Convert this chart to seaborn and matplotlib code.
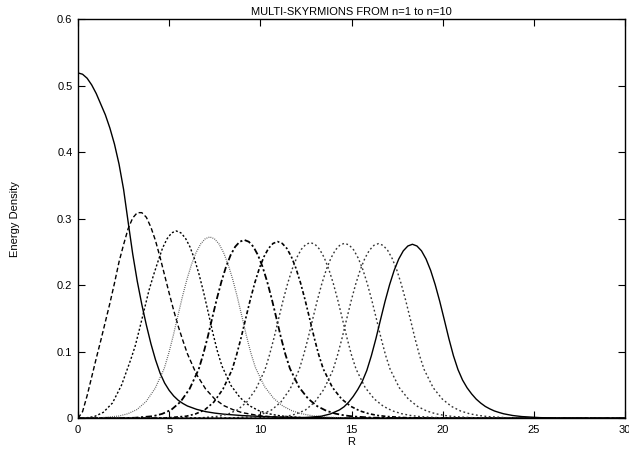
import matplotlib
matplotlib.use("Agg")
import matplotlib.pyplot as plt
import seaborn as sns
import pandas as pd

# ---------------- data ----------------
r_n1 = [0, 0.25, 0.5, 0.75, 1.0, 1.25, 1.5, 1.75, 2.0, 2.25, 2.5, 2.75, 3.0, 3.25, 3.5,
        3.75, 4.0, 4.25, 4.5, 4.75, 5.0, 5.25, 5.5, 5.75, 6.0, 6.5, 7.0, 7.5, 8.0, 9.0,
        10, 11, 12, 14, 16, 20, 30]
e_n1 = [0.519, 0.517, 0.511, 0.501, 0.488, 0.472, 0.456, 0.436, 0.412, 0.382, 0.344,
        0.295, 0.247, 0.206, 0.171, 0.140, 0.112, 0.088, 0.068, 0.053, 0.042, 0.0335,
        0.027, 0.0223, 0.0185, 0.0135, 0.010, 0.0078, 0.0062, 0.0041, 0.0028, 0.0019,
        0.0013, 0.0006, 0.0003, 0.0001, 0.0]

r_n2 = [0, 0.25, 0.5, 0.75, 1.0, 1.25, 1.5, 1.75, 2.0, 2.25, 2.5, 2.75, 3.0, 3.25, 3.5,
        3.75, 4.0, 4.25, 4.5, 4.75, 5.0, 5.25, 5.5, 5.75, 6.0, 6.5, 7.0, 7.5, 8.0, 8.5,
        9.0, 10, 11, 12, 14, 30]
e_n2 = [0.0, 0.010, 0.034, 0.062, 0.090, 0.117, 0.145, 0.173, 0.203, 0.235, 0.261,
        0.285, 0.301, 0.309, 0.309, 0.302, 0.287, 0.267, 0.242, 0.215, 0.188, 0.162,
        0.138, 0.117, 0.097, 0.066, 0.044, 0.029, 0.019, 0.013, 0.0085, 0.0037,
        0.0016, 0.0007, 0.0001, 0.0]

r_n3 = [0, 0.39, 0.89, 1.39, 1.89, 2.39, 2.89, 3.14, 3.39, 3.64, 3.89, 4.14, 4.39, 4.64,
        4.89, 5.14, 5.39, 5.64, 5.89, 6.14, 6.39, 6.64, 6.89, 7.14, 7.39, 7.64, 7.89,
        8.39, 8.89, 9.39, 9.89, 10.39, 10.89, 11.39, 12.39, 13.39, 30]
e_n3 = [0.0, 0.0005, 0.0025, 0.009, 0.023, 0.050, 0.088, 0.109, 0.136, 0.164, 0.192,
        0.215, 0.236, 0.256, 0.270, 0.2787, 0.2815, 0.2787, 0.2708, 0.2576, 0.2393,
        0.2162, 0.1892, 0.1593, 0.1289, 0.1013, 0.0788, 0.0493, 0.0310, 0.0191,
        0.0118, 0.0073, 0.0045, 0.0028, 0.0010, 0.0004, 0.0]

r_n4 = [0, 0.23, 1.23, 2.23, 2.73, 3.23, 3.73, 4.23, 4.73, 4.98, 5.23, 5.48, 5.73, 5.98,
        6.23, 6.48, 6.73, 6.98, 7.23, 7.48, 7.73, 7.98, 8.23, 8.48, 8.73, 8.98, 9.23,
        9.48, 9.73, 10.23, 10.73, 11.23, 11.73, 12.23, 12.73, 13.23, 14.23, 15.23, 30]
e_n4 = [0.0, 0.0002, 0.0008, 0.0033, 0.0068, 0.0131, 0.0251, 0.0450, 0.0749, 0.0981,
        0.1248, 0.1542, 0.1831, 0.2093, 0.2316, 0.2493, 0.2621, 0.2698, 0.2725,
        0.2698, 0.2621, 0.2493, 0.2316, 0.2093, 0.1831, 0.1542, 0.1248, 0.0981,
        0.0763, 0.0477, 0.0300, 0.0185, 0.0114, 0.0071, 0.0044, 0.0027, 0.0010,
        0.0004, 0.0]

r_n5 = [0, 2.12, 3.12, 4.12, 4.62, 5.12, 5.62, 6.12, 6.62, 6.87, 7.12, 7.37, 7.62, 7.87,
        8.12, 8.37, 8.62, 8.87, 9.12, 9.37, 9.62, 9.87, 10.12, 10.37, 10.62, 10.87,
        11.12, 11.37, 11.62, 12.12, 12.62, 13.12, 13.62, 14.12, 14.62, 15.12, 16.12,
        17.12, 30]
e_n5 = [0.0, 0.0002, 0.0008, 0.0032, 0.0067, 0.0129, 0.0247, 0.0442, 0.0737, 0.0965,
        0.1227, 0.1517, 0.1801, 0.2058, 0.2278, 0.2452, 0.2578, 0.2653, 0.2680,
        0.2653, 0.2578, 0.2452, 0.2278, 0.2058, 0.1801, 0.1517, 0.1227, 0.0965,
        0.0750, 0.0469, 0.0295, 0.0182, 0.0113, 0.0070, 0.0043, 0.0027, 0.0010,
        0.0003, 0.0]

r_n6 = [0, 3.95, 4.95, 5.95, 6.45, 6.95, 7.45, 7.95, 8.45, 8.7, 8.95, 9.2, 9.45, 9.7,
        9.95, 10.2, 10.45, 10.7, 10.95, 11.2, 11.45, 11.7, 11.95, 12.2, 12.45, 12.7,
        12.95, 13.2, 13.45, 13.95, 14.45, 14.95, 15.45, 15.95, 16.45, 16.95, 17.95,
        18.95, 30]
e_n6 = [0.0, 0.0002, 0.0008, 0.0032, 0.0066, 0.0127, 0.0244, 0.0438, 0.0730, 0.0956,
        0.1216, 0.1503, 0.1784, 0.2039, 0.2257, 0.2429, 0.2554, 0.2628, 0.2655,
        0.2628, 0.2554, 0.2429, 0.2257, 0.2039, 0.1784, 0.1503, 0.1216, 0.0956,
        0.0743, 0.0465, 0.0292, 0.0181, 0.0112, 0.0069, 0.0042, 0.0027, 0.0010,
        0.0003, 0.0]

r_n7 = [0, 5.75, 6.75, 7.75, 8.25, 8.75, 9.25, 9.75, 10.25, 10.5, 10.75, 11.0, 11.25,
        11.5, 11.75, 12.0, 12.25, 12.5, 12.75, 13.0, 13.25, 13.5, 13.75, 14.0, 14.25,
        14.5, 14.75, 15.0, 15.25, 15.75, 16.25, 16.75, 17.25, 17.75, 18.25, 18.75,
        19.75, 20.75, 30]
e_n7 = [0.0, 0.0002, 0.0008, 0.0032, 0.0066, 0.0127, 0.0243, 0.0436, 0.0726, 0.0950,
        0.1209, 0.1494, 0.1774, 0.2028, 0.2244, 0.2416, 0.2540, 0.2614, 0.2640,
        0.2614, 0.2540, 0.2416, 0.2244, 0.2028, 0.1774, 0.1494, 0.1209, 0.0950,
        0.0739, 0.0462, 0.0290, 0.0180, 0.0111, 0.0069, 0.0042, 0.0026, 0.0010,
        0.0003, 0.0]

r_n8 = [0, 7.62, 8.62, 9.62, 10.12, 10.62, 11.12, 11.62, 12.12, 12.37, 12.62, 12.87,
        13.12, 13.37, 13.62, 13.87, 14.12, 14.37, 14.62, 14.87, 15.12, 15.37, 15.62,
        15.87, 16.12, 16.37, 16.62, 16.87, 17.12, 17.62, 18.12, 18.62, 19.12, 19.62,
        20.12, 20.62, 21.62, 22.62, 30]
e_n8 = [0.0, 0.0002, 0.0008, 0.0032, 0.0066, 0.0126, 0.0242, 0.0434, 0.0723, 0.0947,
        0.1205, 0.1489, 0.1767, 0.2020, 0.2236, 0.2406, 0.2530, 0.2604, 0.2630,
        0.2604, 0.2530, 0.2406, 0.2236, 0.2020, 0.1767, 0.1489, 0.1205, 0.0947,
        0.0736, 0.0460, 0.0289, 0.0179, 0.0110, 0.0068, 0.0042, 0.0026, 0.0010,
        0.0003, 0.0]

r_n9 = [0, 9.48, 10.48, 11.48, 11.98, 12.48, 12.98, 13.48, 13.98, 14.23, 14.48, 14.73,
        14.98, 15.23, 15.48, 15.73, 15.98, 16.23, 16.48, 16.73, 16.98, 17.23, 17.48,
        17.73, 17.98, 18.23, 18.48, 18.73, 18.98, 19.48, 19.98, 20.48, 20.98, 21.48,
        21.98, 22.48, 23.48, 24.48, 30]
e_n9 = [0.0, 0.0002, 0.0008, 0.0032, 0.0066, 0.0126, 0.0242, 0.0433, 0.0722, 0.0945,
        0.1202, 0.1486, 0.1764, 0.2016, 0.2231, 0.2402, 0.2525, 0.2599, 0.2625,
        0.2599, 0.2525, 0.2402, 0.2231, 0.2016, 0.1764, 0.1486, 0.1202, 0.0945,
        0.0735, 0.0459, 0.0289, 0.0179, 0.0110, 0.0068, 0.0042, 0.0026, 0.0010,
        0.0003, 0.0]

r_n10 = [0, 11.34, 12.34, 13.34, 13.84, 14.34, 14.59, 14.84, 15.09, 15.34, 15.59, 15.84,
         16.09, 16.34, 16.59, 16.84, 17.09, 17.34, 17.59, 17.84, 18.09, 18.34, 18.59,
         18.84, 19.09, 19.34, 19.59, 19.84, 20.09, 20.34, 20.59, 20.84, 21.09, 21.34,
         21.59, 21.84, 22.09, 22.34, 22.59, 22.84, 23.09, 23.34, 23.84, 24.34, 25.34,
         26.34, 30]
e_n10 = [0.0, 0.0002, 0.0008, 0.0031, 0.0065, 0.0126, 0.0173, 0.0241, 0.0327, 0.0431,
         0.0554, 0.0719, 0.0941, 0.1198, 0.1480, 0.1757, 0.2008, 0.2223, 0.2393,
         0.2516, 0.2589, 0.2615, 0.2589, 0.2516, 0.2393, 0.2223, 0.2008, 0.1757,
         0.1480, 0.1198, 0.0941, 0.0732, 0.0575, 0.0458, 0.0366, 0.0288, 0.0228,
         0.0178, 0.0141, 0.0110, 0.0088, 0.0068, 0.0042, 0.0026, 0.0010, 0.0003, 0.0]

x_ticks = [0, 5, 10, 15, 20, 25, 30]
x_labels = ["0", "5", "10", "15", "20", "25", "30"]
y_ticks = [0, 0.1, 0.2, 0.3, 0.4, 0.5, 0.6]
y_labels = ["0", "0.1", "0.2", "0.3", "0.4", "0.5", "0.6"]

title = "MULTI-SKYRMIONS FROM n=1 to n=10"
x_title = "R"
y_title = "Energy Density"

# ---------------- styling ----------------
sns.set_style("ticks")
plt.rcParams["font.family"] = ["Liberation Sans", "DejaVu Sans"]
plt.rcParams["text.color"] = "black"
plt.rcParams["axes.labelcolor"] = "black"

curves = [
    (r_n1, e_n1, "black", "-", 1.0),
    (r_n2, e_n2, "black", (0, (3.3, 1.9)), 1.0),
    (r_n3, e_n3, "black", (0, (1.5, 1.5)), 1.0),
    (r_n4, e_n4, "#555555", (0, (0.7, 1.0)), 0.9),
    (r_n5, e_n5, "black", (0, (3.5, 1.4, 1.2, 1.4)), 1.3),
    (r_n6, e_n6, "black", (0, (2.4, 1.4, 1.2, 1.4)), 1.2),
    (r_n7, e_n7, "#333333", (0, (1.3, 1.8)), 1.0),
    (r_n8, e_n8, "#333333", (0, (1.3, 1.8)), 1.0),
    (r_n9, e_n9, "#333333", (0, (1.3, 1.8)), 1.0),
    (r_n10, e_n10, "black", "-", 1.0),
]

fig = plt.figure(figsize=(6.29, 4.53), dpi=100)
ax = fig.add_axes([78 / 629, 1 - 418.3 / 453, 547 / 629, 399.3 / 453])

for r, e, col, ls, lw in curves:
    df = pd.DataFrame({"R": r, "E": e})
    sns.lineplot(data=df, x="R", y="E", ax=ax, color=col, linestyle=ls,
                 linewidth=lw, estimator=None, sort=False, legend=False)

ax.set_xlim(0, 30)
ax.set_ylim(0, 0.6)
ax.set_xticks(x_ticks)
ax.set_xticklabels(x_labels)
ax.set_yticks(y_ticks)
ax.set_yticklabels(y_labels)
ax.tick_params(direction="in", length=5, width=0.8, top=True, right=True,
               labelsize=8, colors="black")
ax.tick_params(axis="x", pad=5)
ax.tick_params(axis="y", pad=4)
for s in ax.spines.values():
    s.set_visible(True)
    s.set_linewidth(1.0)
    s.set_color("black")

ax.set_title(title, fontsize=8, pad=3, color="black")
ax.set_xlabel(x_title, fontsize=8)
ax.set_ylabel(y_title, fontsize=8)
ax.xaxis.set_label_coords(0.5, -0.0594)
ax.xaxis.label.set_verticalalignment("center")
ax.yaxis.set_label_coords(-0.115, 0.5)
ax.yaxis.label.set_verticalalignment("center")

fig.savefig("out.png", dpi=100)
